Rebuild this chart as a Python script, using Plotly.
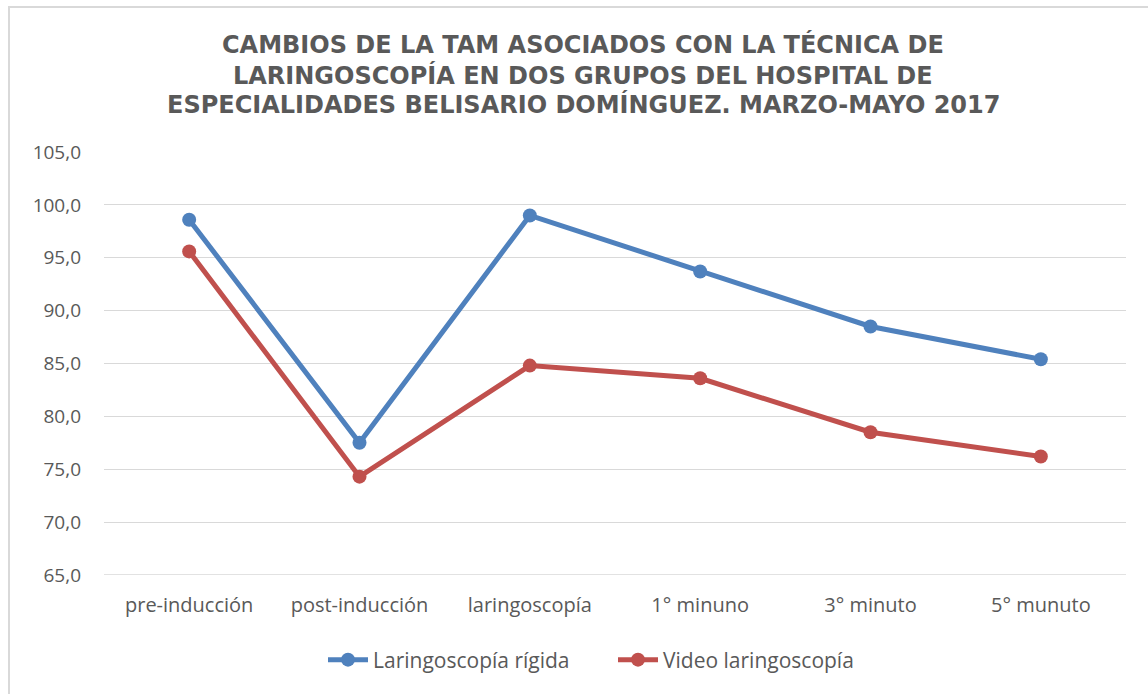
import plotly.graph_objects as go

categories = ["pre-inducción", "post-inducción", "laringoscopía", "1° minuno", "3° minuto", "5° munuto"]
rigida = [98.6, 77.5, 99.0, 93.7, 88.5, 85.4]
video = [95.6, 74.3, 84.8, 83.6, 78.5, 76.2]
series_names = ["Laringoscopía rígida", "Video laringoscopía"]
tick_vals = [65, 70, 75, 80, 85, 90, 95, 100, 105]
tick_text = ["65,0", "70,0", "75,0", "80,0", "85,0", "90,0", "95,0", "100,0", "105,0"]
title_lines = [
    "CAMBIOS DE LA TAM ASOCIADOS CON LA TÉCNICA DE",
    "LARINGOSCOPÍA EN DOS GRUPOS DEL HOSPITAL DE",
    "ESPECIALIDADES BELISARIO DOMÍNGUEZ. MARZO-MAYO 2017",
]

W, H = 1148, 694
ml, mr, mt, mb = 104, 22, 152, 119
pw, ph = W - ml - mr, H - mt - mb

def px_x(p):
    return (p - ml) / pw

def px_y(p):
    return (H - mb - p) / ph

fig = go.Figure()
for name, vals, col in [(series_names[0], rigida, "#4F81BD"), (series_names[1], video, "#C0504D")]:
    fig.add_trace(go.Scatter(
        x=categories, y=vals, name=name, mode="lines+markers",
        line=dict(color=col, width=5),
        marker=dict(color=col, size=14),
    ))

font_fam = "Open Sans, Noto Sans, sans-serif"

fig.update_layout(
    width=W, height=H,
    margin=dict(l=ml, r=mr, t=mt, b=mb),
    paper_bgcolor="white", plot_bgcolor="white",
    showlegend=True,
    legend=dict(orientation="h", x=px_x(613), xanchor="center", y=px_y(660), yanchor="middle",
                font=dict(family=font_fam, size=21, color="#595959"),
                itemwidth=40, traceorder="normal", entrywidth=235, entrywidthmode="pixels"),
    xaxis=dict(type="category", range=[-0.5, 5.5], showgrid=False, zeroline=False,
               showline=False, ticks="", tickfont=dict(family=font_fam, size=20, color="#595959"),
               ticklabelstandoff=16),
    yaxis=dict(range=[65, 105], tickvals=tick_vals, ticktext=tick_text, showgrid=True,
               gridcolor="#d9d9d9", gridwidth=1.3, zeroline=False, showline=False,
               ticks="", tickfont=dict(family=font_fam, size=19, color="#595959"),
               ticklabelstandoff=22),
)

# 65 baseline gridline
fig.add_shape(type="line", xref="paper", yref="y", x0=0, x1=1, y0=65, y1=65,
              line=dict(color="#d9d9d9", width=1.3), layer="below")

# Outer chart border
fig.add_shape(type="rect", xref="paper", yref="paper",
              x0=px_x(9), x1=px_x(1160), y0=px_y(710), y1=px_y(7),
              line=dict(color="#d9d9d9", width=2), layer="below")

for line, yc in zip(title_lines, [45, 75, 104]):
    fig.add_annotation(text="<b>" + line + "</b>", xref="paper", yref="paper",
                       x=px_x(583), y=px_y(yc), xanchor="center", yanchor="middle",
                       showarrow=False,
                       font=dict(family="DejaVu Sans, sans-serif", size=24, color="#595959"))

fig.write_html("out.html", config={"displayModeBar": False},
               post_script="document.body.style.margin='0';")
